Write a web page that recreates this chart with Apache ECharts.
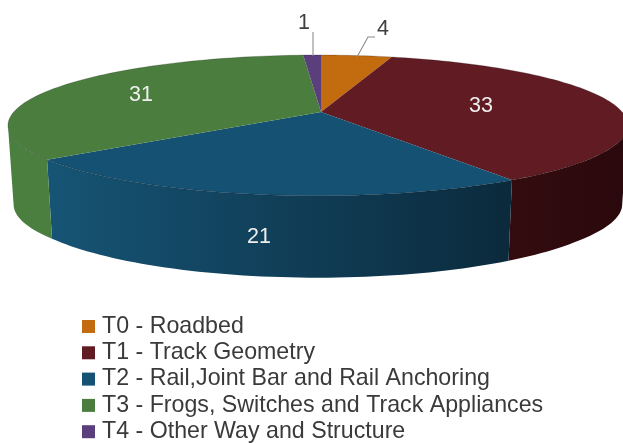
<!DOCTYPE html>
<html>
<head>
<meta charset="utf-8">
<style>html,body{margin:0;padding:0;background:#fff}#c{width:623px;height:443px}</style>
<script src="https://cdn.jsdelivr.net/npm/echarts@6/dist/echarts.min.js"></script>
</head>
<body>
<div id="c"></div>
<script>
var categories = ['T0 - Roadbed', 'T1 - Track Geometry', 'T2 - Rail,Joint Bar and Rail Anchoring', 'T3 - Frogs, Switches and Track Appliances', 'T4 - Other Way and Structure'];
var values = [4, 33, 21, 31, 1];
var topColors = ['#C36C0F', '#611B23', '#145173', '#4B7E3E', '#5A3F7C'];
var sideLeftColors = ['#C36C0F', '#340C10', '#165475', '#4B7F40', '#5A3F7C'];
var sideRightColors = ['#C36C0F', '#2A080B', '#0B2A3C', '#4B7F40', '#5A3F7C'];
var labelCentres = [[383, 29], [481, 106], [259, 237], [141, 95], [304, 23]];

// perspective disc geometry
var CX = 321, CY = 112, RX = 304.2, RY = 67.8, P = 0.19, Q = 0.01, DEPTH = 79, SHRINK = 0.982;
var total = values.reduce(function (a, b) { return a + b; }, 0);
var FOLD = Math.acos(-P) * 180 / Math.PI; // side wall is visible between FOLD and 360-FOLD

function project(deg, r) {
  var a = deg * Math.PI / 180, u = Math.sin(a) * r, v = -Math.cos(a) * r, w = 1 - P * v + Q * u;
  return [CX + RX * u / w, CY + RY * v / w];
}
function lower(p) {
  return [CX + (p[0] - CX) * SHRINK, p[1] + DEPTH + Math.max(0, p[1] - 160) / 12];
}
function arc(a0, a1) {
  var pts = [], n = Math.max(2, Math.ceil((a1 - a0) / 1.5));
  for (var i = 0; i <= n; i++) pts.push(project(a0 + (a1 - a0) * i / n, 1));
  return pts;
}
function angles(api) {
  return [api.value(0) / total * 360, (api.value(0) + api.value(1)) / total * 360];
}

function sideItem(idx) {
  return function (params, api) {
    var a = angles(api);
    var a0 = Math.max(a[0], FOLD), a1 = Math.min(a[1], 360 - FOLD);
    if (a1 <= a0) return { type: 'group', children: [] };
    var upper = arc(a0, a1);
    var pts = upper.concat(upper.map(lower).reverse());
    var xs = pts.map(function (p) { return p[0]; });
    return {
      type: 'group',
      children: [{
        type: 'polygon',
        shape: { points: pts },
        style: {
          fill: new echarts.graphic.LinearGradient(Math.min.apply(null, xs), 0, Math.max.apply(null, xs), 0, [
            { offset: 0, color: sideLeftColors[idx] },
            { offset: 1, color: sideRightColors[idx] }
          ], true)
        }
      }]
    };
  };
}
function topItem(idx) {
  return function (params, api) {
    var a = angles(api), upper = arc(a[0], a[1]);
    var children = [{
      type: 'polygon',
      shape: { points: [[CX, CY]].concat(upper) },
      style: { fill: topColors[idx] }
    }, {
      type: 'polyline',
      shape: { points: upper },
      style: { fill: null, stroke: 'rgba(0,0,0,0.35)', lineWidth: 0.6 }
    }, {
      type: 'text',
      x: labelCentres[idx][0], y: labelCentres[idx][1],
      style: {
        text: String(api.value(1)),
        font: '21.5px "Liberation Sans", Arial, sans-serif',
        fill: (idx === 0 || idx === 4) ? '#404040' : '#EFEFEF',
        align: 'center', verticalAlign: 'middle'
      }
    }];
    return { type: 'group', children: children };
  };
}

var series = [], cum = 0;
values.forEach(function (v, i) {
  var datum = [[cum, v]];
  series.push({ type: 'custom', name: categories[i], coordinateSystem: 'none', z: 1, silent: true, animation: false,
    itemStyle: { color: topColors[i] }, renderItem: sideItem(i), data: datum });
  series.push({ type: 'custom', name: categories[i], coordinateSystem: 'none', z: 2, silent: true, animation: false,
    itemStyle: { color: topColors[i] }, renderItem: topItem(i), data: datum });
  cum += v;
});

// leader lines from the small slices to their labels
series.push({
  type: 'custom', coordinateSystem: 'none', z: 3, silent: true, animation: false,
  data: [[0]],
  renderItem: function () {
    var st = { fill: null, stroke: '#8C8C8C', lineWidth: 1.1 };
    return { type: 'group', children: [
      { type: 'polyline', shape: { points: [[313, 32], [313, 56]] }, style: st },
      { type: 'polyline', shape: { points: [[357, 57], [368, 37], [375, 37]] }, style: st }
    ] };
  }
});

var chart = echarts.init(document.getElementById('c'), null, { renderer: 'canvas' });
chart.setOption({
  backgroundColor: '#fff',
  animation: false,
  legend: {
    orient: 'vertical', left: 82, top: 315, height: 160, padding: 0,
    itemWidth: 13, itemHeight: 13, itemGap: 3.3, selectedMode: false,
    textStyle: { fontFamily: '"Liberation Sans", Arial, sans-serif', fontSize: 23.2, color: '#3A3A3A', lineHeight: 22, padding: [0, 0, 0, 2] },
    data: categories.map(function (c, i) {
      return { name: c, icon: 'rect', itemStyle: { color: topColors[i] } };
    })
  },
  series: series
});
</script>
</body>
</html>
